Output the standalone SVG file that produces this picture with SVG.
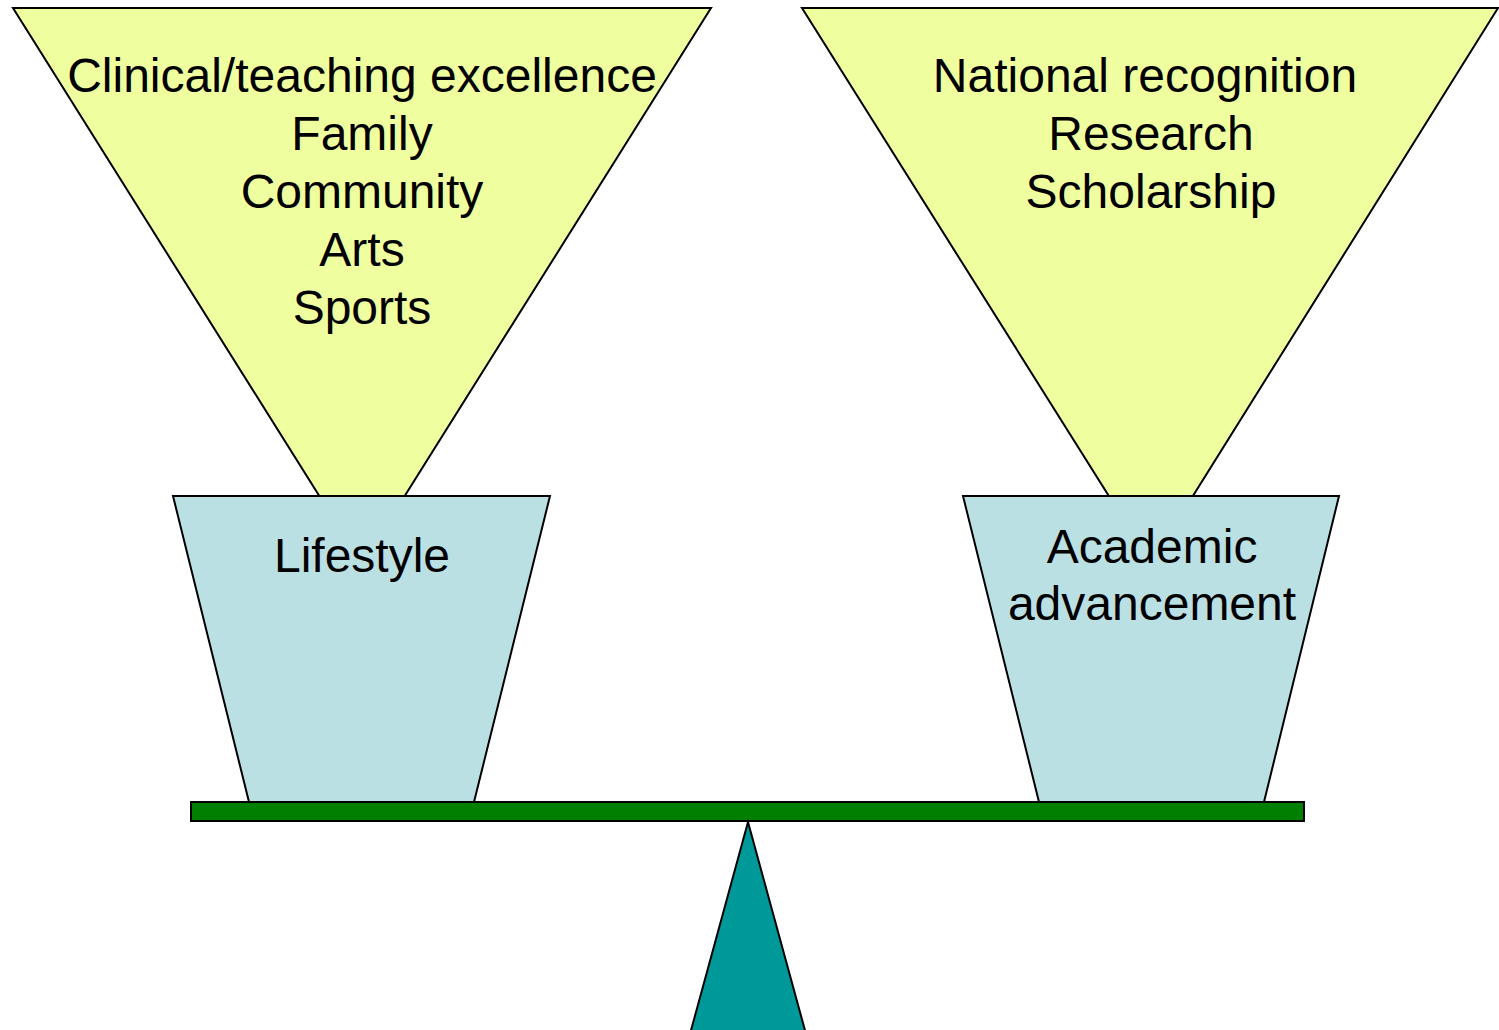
<svg xmlns="http://www.w3.org/2000/svg" width="1499" height="1030" viewBox="0 0 1499 1030">
<style>
.funnel{fill:#EFFFA0;stroke:#000;stroke-width:2;stroke-linejoin:miter}
.pot{fill:#BBE0E3;stroke:#000;stroke-width:2}
.t{font-family:"Liberation Sans",Arial,sans-serif;font-size:48px;fill:#000;text-anchor:middle}
</style>
<rect width="1499" height="1030" fill="#fff"/>
<g id="left-funnel">
<polygon class="funnel" points="13,8 711,8 362,564"/>
<text class="t" x="362" y="92">Clinical/teaching excellence</text>
<text class="t" x="362" y="150">Family</text>
<text class="t" x="362" y="208">Community</text>
<text class="t" x="362" y="266">Arts</text>
<text class="t" x="362" y="324">Sports</text>
</g>
<g id="right-funnel">
<polygon class="funnel" points="802,8 1498,8 1151,563"/>
<text class="t" x="1145" y="92">National recognition</text>
<text class="t" x="1151" y="150">Research</text>
<text class="t" x="1151" y="208">Scholarship</text>
</g>
<g id="left-pot">
<polygon class="pot" points="173,496 550,496 474,802 249,802"/>
<text class="t" x="362" y="572">Lifestyle</text>
</g>
<g id="right-pot">
<polygon class="pot" points="963,496 1339,496 1264,802 1039,802"/>
<text class="t" x="1152" y="563">Academic</text>
<text class="t" x="1152" y="620">advancement</text>
</g>
<g id="beam">
<rect x="191" y="802" width="1113" height="19" fill="#007F00" stroke="#000" stroke-width="2"/>
</g>
<g id="fulcrum">
<polygon points="748,822 809,1045 687,1045" fill="#009999" stroke="#000" stroke-width="2"/>
</g>
<g id="connectors"></g>
</svg>
